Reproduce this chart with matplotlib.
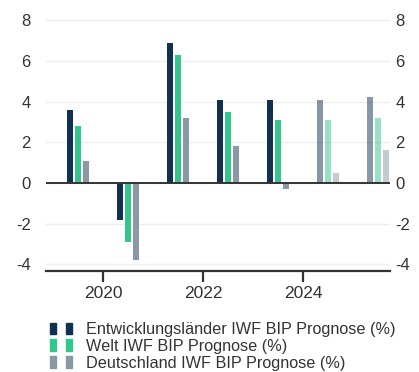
import numpy as np
import matplotlib.pyplot as plt
from matplotlib.patches import Patch
from matplotlib.legend_handler import HandlerTuple

plt.rcParams['font.family'] = ['Liberation Sans', 'DejaVu Sans']
plt.rcParams['axes.unicode_minus'] = False

years = [2019, 2020, 2021, 2022, 2023, 2024, 2025]
forecast = [False, False, False, False, False, True, True]

entwicklung = [3.6, -1.8, 6.9, 4.1, 4.1, 4.1, 4.2]
welt = [2.8, -2.9, 6.3, 3.5, 3.1, 3.1, 3.2]
deutschland = [1.1, -3.8, 3.2, 1.8, -0.3, 0.5, 1.6]

labels = ['Entwicklungsländer IWF BIP Prognose (%)',
          'Welt IWF BIP Prognose (%)',
          'Deutschland IWF BIP Prognose (%)']
colors = ['#12304f', '#35c48c', '#8a98a5']
text_color = '#333333'

fig = plt.figure(figsize=(4.19, 3.72), dpi=100)
ax = fig.add_axes([46 / 419, 1 - 271 / 372, (390 - 46) / 419, (271 - 14) / 372])

# bars sit in the middle of each year, forecast years are faded
x = np.array(years) + 0.5
offsets = [-0.16, 0.0, 0.16]
width = 0.13
for series, off, col in zip([entwicklung, welt, deutschland], offsets, colors):
    alphas = [0.5 if f else 1.0 for f in forecast]
    for xi, v, a in zip(x, series, alphas):
        ax.bar(xi + off, v, width=width, color=col, alpha=a, zorder=3)

ax.axhline(0, color='#333333', lw=1.4, zorder=4)

ax.set_xlim(2018.86, 2025.74)
ax.set_ylim(-4.32, 8.3)
ax.set_yticks(range(-4, 9, 2))
ax.set_xticks([2020, 2022, 2024])
ax.set_xticklabels(['2020', '2022', '2024'])
ax.grid(axis='y', color='#eeeeee', lw=1.0, zorder=0)

for side in ['top', 'left', 'right']:
    ax.spines[side].set_visible(False)
ax.spines['bottom'].set_color('#333333')
ax.spines['bottom'].set_linewidth(1.6)

ax.tick_params(axis='x', length=8, width=1.6, color='#333333', pad=3,
               labelsize=12.5, labelcolor=text_color)
ax.tick_params(axis='y', length=0, pad=11, labelsize=12, labelcolor=text_color)

ax2 = ax.twinx()
ax2.set_ylim(ax.get_ylim())
ax2.set_yticks(range(-4, 9, 2))
for side in ['top', 'left', 'right', 'bottom']:
    ax2.spines[side].set_visible(False)
ax2.tick_params(axis='y', length=0, pad=4, labelsize=12, labelcolor=text_color)

handles = [(Patch(color=c), Patch(color=c)) for c in colors]
fig.legend(handles, labels, handler_map={tuple: HandlerTuple(ndivide=None, pad=0.62)},
           loc='upper left', bbox_to_anchor=(50 / 419, 1 - 322 / 372),
           frameon=False, fontsize=11.7, labelcolor=text_color,
           handlelength=1.35, handleheight=0.72, handletextpad=0.86,
           labelspacing=0.12, borderaxespad=0, borderpad=0)

fig.savefig('out.png', dpi=100)
